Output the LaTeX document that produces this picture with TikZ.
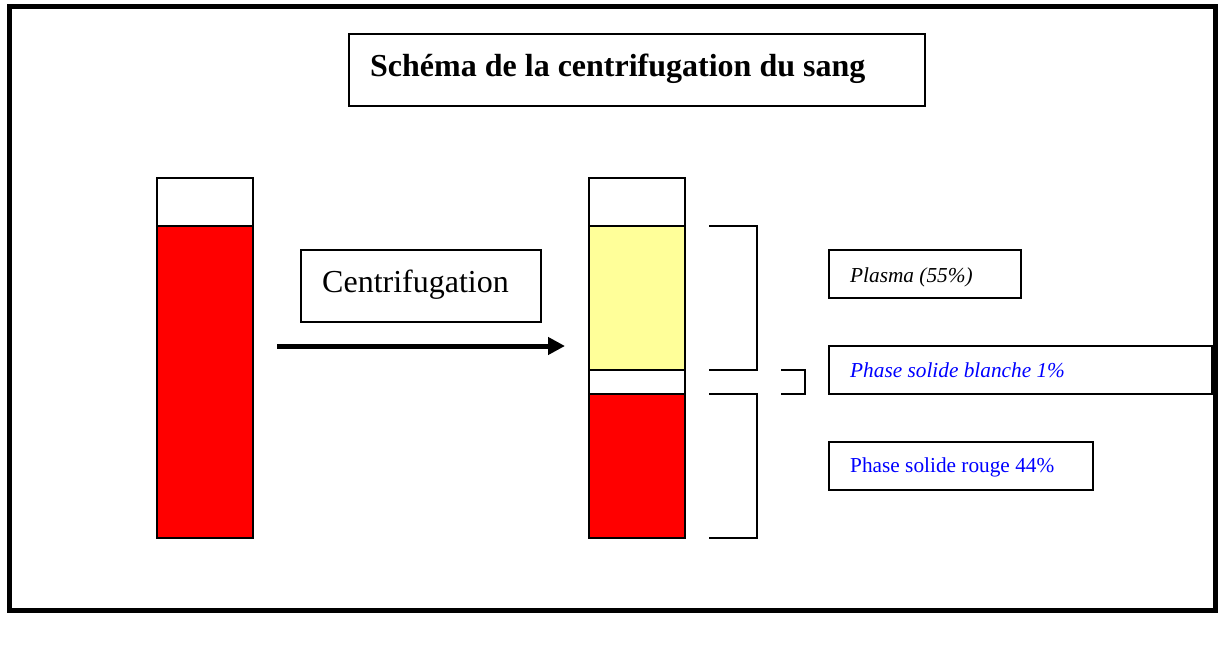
\documentclass[tikz,border=0pt]{standalone}
\usepackage{fontspec}
\setmainfont{Liberation Serif}
\usetikzlibrary{arrows.meta}
\definecolor{plasmay}{HTML}{FFFF99}
\definecolor{labelblue}{HTML}{0000FF}
\tikzset{
  px/.style={x=1pt,y=-1pt},
  boxline/.style={draw=black,line width=2pt},
  bracketline/.style={draw=black,line width=2pt},
  lbl/.style={anchor=base west,inner sep=0pt,font=\fontsize{21.3}{25}\selectfont},
  bigtxt/.style={anchor=base west,inner sep=0pt,font=\fontsize{32}{38}\selectfont},
}
\begin{document}
\begin{tikzpicture}[px]
\useasboundingbox (0,0) rectangle (1219,666);
% outer frame
\draw[line width=5pt] (9.5,6.5) rectangle (1215.5,610.5);
% title
\draw[boxline] (349,34) rectangle (925,106);
\node[bigtxt,font=\fontsize{32}{38}\selectfont\bfseries] (title) at (370,77) {Schéma de la centrifugation du sang};
% left tube
\draw[boxline,fill=white] (157,178) rectangle (253,226);
\draw[boxline,fill=red] (157,226) rectangle (253,538);
% centrifugation box
\draw[boxline] (301,250) rectangle (541,322);
\node[bigtxt] (cent) at (322,292) {Centrifugation};
% arrow
\coordinate (arrS) at (277,346);
\coordinate (arrE) at (565,346);
\draw[line width=5pt,-{Triangle[length=17pt,width=17pt]}] (arrS) -- (arrE);
% right tube
\draw[boxline,fill=white] (589,178) rectangle (685,226);
\draw[boxline,fill=plasmay] (589,226) rectangle (685,370);
\draw[boxline,fill=white] (589,370) rectangle (685,394);
\draw[boxline,fill=red] (589,394) rectangle (685,538);
% brackets
\draw[bracketline] (709,226) -- (757,226) -- (757,370) -- (709,370);
\draw[bracketline] (709,394) -- (757,394) -- (757,538) -- (709,538);
\draw[bracketline] (781,370) -- (805,370) -- (805,394) -- (781,394);
% labels
\draw[boxline] (829,250) rectangle (1021,298);
\node[lbl,font=\fontsize{21.3}{25}\selectfont\itshape] (plasma) at (850,282) {Plasma (55\%)};
\draw[boxline] (829,346) rectangle (1212,394);
\node[lbl,text=labelblue,font=\fontsize{21.3}{25}\selectfont\itshape] (blanche) at (850,377) {Phase solide blanche 1\%};
\draw[boxline] (829,442) rectangle (1093,490);
\node[lbl,text=labelblue] (rouge) at (850,472) {Phase solide rouge 44\%};
\end{tikzpicture}
\end{document}
